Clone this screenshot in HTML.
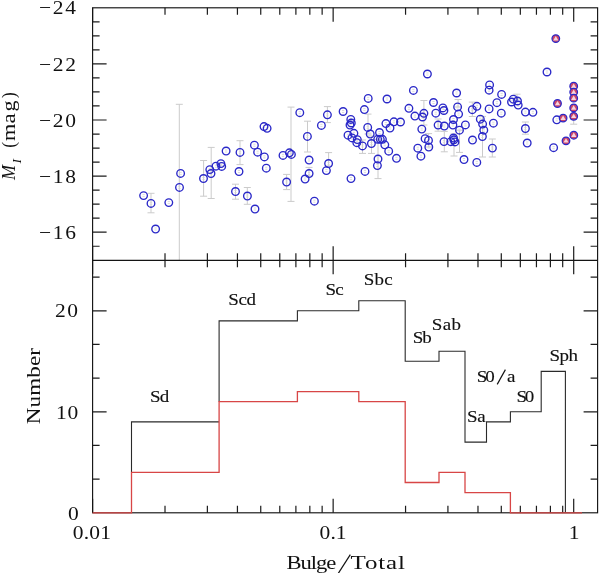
<!DOCTYPE html>
<html><head><meta charset="utf-8"><style>
html,body{margin:0;padding:0;background:#fff;}
body{width:600px;height:573px;overflow:hidden;font-family:"Liberation Serif",serif;}
svg{display:block;will-change:transform;}
</style></head><body>
<svg width="600" height="573" viewBox="0 0 600 573">
<rect width="600" height="573" fill="#fff"/>
<g stroke="#cbcbcb" stroke-width="1" fill="none">
<path d="M151.0 193.3V212.8"/>
<path d="M147.5 193.3H154.5"/>
<path d="M147.5 212.8H154.5"/>
<path d="M179.3 104.3V260.0"/>
<path d="M175.8 104.3H182.8"/>
<path d="M203.6 160.5V196.2"/>
<path d="M200.1 160.5H207.1"/>
<path d="M200.1 196.2H207.1"/>
<path d="M211.2 147.4V198.5"/>
<path d="M207.7 147.4H214.7"/>
<path d="M207.7 198.5H214.7"/>
<path d="M235.5 184.2V199.2"/>
<path d="M232.0 184.2H239.0"/>
<path d="M232.0 199.2H239.0"/>
<path d="M240.0 140.7V164.6"/>
<path d="M236.5 140.7H243.5"/>
<path d="M236.5 164.6H243.5"/>
<path d="M247.3 187.5V204.3"/>
<path d="M243.8 187.5H250.8"/>
<path d="M243.8 204.3H250.8"/>
<path d="M286.6 174.4V189.6"/>
<path d="M283.1 174.4H290.1"/>
<path d="M283.1 189.6H290.1"/>
<path d="M291.0 107.1V201.4"/>
<path d="M287.5 107.1H294.5"/>
<path d="M287.5 201.4H294.5"/>
<path d="M307.5 121.2V152.0"/>
<path d="M304.0 121.2H311.0"/>
<path d="M304.0 152.0H311.0"/>
<path d="M327.4 106.6V122.6"/>
<path d="M323.9 106.6H330.9"/>
<path d="M323.9 122.6H330.9"/>
<path d="M328.6 152.6V166.0"/>
<path d="M325.1 152.6H332.1"/>
<path d="M325.1 166.0H332.1"/>
<path d="M309.0 167.4V176.0"/>
<path d="M305.5 167.4H312.5"/>
<path d="M305.5 176.0H312.5"/>
<path d="M368.0 114.1V134.0"/>
<path d="M364.5 114.1H371.5"/>
<path d="M364.5 134.0H371.5"/>
<path d="M362.5 140.0V153.4"/>
<path d="M359.0 140.0H366.0"/>
<path d="M359.0 153.4H366.0"/>
<path d="M371.5 136.0V153.4"/>
<path d="M368.0 136.0H375.0"/>
<path d="M368.0 153.4H375.0"/>
<path d="M378.0 139.3V178.6"/>
<path d="M374.5 139.3H381.5"/>
<path d="M374.5 178.6H381.5"/>
<path d="M423.9 100.5V125.0"/>
<path d="M420.4 100.5H427.4"/>
<path d="M420.4 125.0H427.4"/>
<path d="M444.3 131.4V151.8"/>
<path d="M440.8 131.4H447.8"/>
<path d="M440.8 151.8H447.8"/>
<path d="M454.0 134.0V156.0"/>
<path d="M450.5 134.0H457.5"/>
<path d="M450.5 156.0H457.5"/>
<path d="M458.1 99.5V107.0"/>
<path d="M454.6 99.5H461.6"/>
<path d="M454.6 107.0H461.6"/>
<path d="M459.5 130.2V152.4"/>
<path d="M456.0 130.2H463.0"/>
<path d="M456.0 152.4H463.0"/>
<path d="M438.1 119.0V131.2"/>
<path d="M434.6 119.0H441.6"/>
<path d="M434.6 131.2H441.6"/>
<path d="M428.6 133.6V147.0"/>
<path d="M425.1 133.6H432.1"/>
<path d="M425.1 147.0H432.1"/>
<path d="M472.3 102.1V116.5"/>
<path d="M468.8 102.1H475.8"/>
<path d="M468.8 116.5H475.8"/>
<path d="M482.5 116.4V157.0"/>
<path d="M479.0 116.4H486.0"/>
<path d="M479.0 157.0H486.0"/>
<path d="M492.3 139.0V157.0"/>
<path d="M488.8 139.0H495.8"/>
<path d="M488.8 157.0H495.8"/>
<path d="M525.4 122.0V134.2"/>
<path d="M521.9 122.0H528.9"/>
<path d="M521.9 134.2H528.9"/>
<path d="M517.0 94.2V99.0"/>
<path d="M513.5 94.2H520.5"/>
<path d="M513.5 99.0H520.5"/>
<path d="M573.7 119.5V124.2"/>
<path d="M570.2 119.5H577.2"/>
<path d="M570.2 124.2H577.2"/>
</g>
<g stroke="#d2d2d2" stroke-width="0.8" fill="none">
<path d="M142.5 194.6h2.2M142.5 196.6h2.2"/>
<path d="M149.9 202.4h2.2M149.9 204.4h2.2"/>
<path d="M154.5 228.0h2.2M154.5 230.0h2.2"/>
<path d="M167.7 201.6h2.2M167.7 203.6h2.2"/>
<path d="M178.4 186.4h2.2M178.4 188.4h2.2"/>
<path d="M179.5 172.4h2.2M179.5 174.4h2.2"/>
<path d="M202.4 177.5h2.2M202.4 179.5h2.2"/>
<path d="M208.7 168.6h2.2M208.7 170.6h2.2"/>
<path d="M209.9 172.5h2.2M209.9 174.5h2.2"/>
<path d="M214.9 165.2h2.2M214.9 167.2h2.2"/>
<path d="M219.8 162.6h2.2M219.8 164.6h2.2"/>
<path d="M220.6 165.4h2.2M220.6 167.4h2.2"/>
<path d="M225.0 150.0h2.2M225.0 152.0h2.2"/>
<path d="M234.4 190.5h2.2M234.4 192.5h2.2"/>
<path d="M237.9 170.5h2.2M237.9 172.5h2.2"/>
<path d="M238.9 151.4h2.2M238.9 153.4h2.2"/>
<path d="M246.3 195.0h2.2M246.3 197.0h2.2"/>
<path d="M253.3 144.2h2.2M253.3 146.2h2.2"/>
<path d="M256.5 151.2h2.2M256.5 153.2h2.2"/>
<path d="M263.3 155.9h2.2M263.3 157.9h2.2"/>
<path d="M265.2 167.2h2.2M265.2 169.2h2.2"/>
<path d="M253.9 208.0h2.2M253.9 210.0h2.2"/>
<path d="M262.9 125.6h2.2M262.9 127.6h2.2"/>
<path d="M266.0 127.3h2.2M266.0 129.3h2.2"/>
<path d="M281.9 154.4h2.2M281.9 156.4h2.2"/>
<path d="M288.3 151.8h2.2M288.3 153.8h2.2"/>
<path d="M290.3 153.4h2.2M290.3 155.4h2.2"/>
<path d="M285.5 181.0h2.2M285.5 183.0h2.2"/>
<path d="M298.7 111.7h2.2M298.7 113.7h2.2"/>
<path d="M306.3 135.4h2.2M306.3 137.4h2.2"/>
<path d="M308.0 159.0h2.2M308.0 161.0h2.2"/>
<path d="M308.0 172.5h2.2M308.0 174.5h2.2"/>
<path d="M304.0 178.0h2.2M304.0 180.0h2.2"/>
<path d="M313.3 200.2h2.2M313.3 202.2h2.2"/>
<path d="M320.3 124.4h2.2M320.3 126.4h2.2"/>
<path d="M326.3 113.8h2.2M326.3 115.8h2.2"/>
<path d="M327.5 162.5h2.2M327.5 164.5h2.2"/>
<path d="M325.3 169.6h2.2M325.3 171.6h2.2"/>
<path d="M342.0 110.5h2.2M342.0 112.5h2.2"/>
<path d="M346.9 134.2h2.2M346.9 136.2h2.2"/>
<path d="M349.7 118.4h2.2M349.7 120.4h2.2"/>
<path d="M350.2 122.0h2.2M350.2 124.0h2.2"/>
<path d="M348.9 124.0h2.2M348.9 126.0h2.2"/>
<path d="M349.9 177.6h2.2M349.9 179.6h2.2"/>
<path d="M352.8 132.3h2.2M352.8 134.3h2.2"/>
<path d="M350.9 136.9h2.2M350.9 138.9h2.2"/>
<path d="M356.2 138.6h2.2M356.2 140.6h2.2"/>
<path d="M355.7 141.7h2.2M355.7 143.7h2.2"/>
<path d="M361.4 144.9h2.2M361.4 146.9h2.2"/>
<path d="M363.3 108.6h2.2M363.3 110.6h2.2"/>
<path d="M367.1 97.4h2.2M367.1 99.4h2.2"/>
<path d="M366.6 126.4h2.2M366.6 128.4h2.2"/>
<path d="M369.1 133.0h2.2M369.1 135.0h2.2"/>
<path d="M370.3 142.5h2.2M370.3 144.5h2.2"/>
<path d="M363.9 170.4h2.2M363.9 172.4h2.2"/>
<path d="M376.6 138.3h2.2M376.6 140.3h2.2"/>
<path d="M379.2 138.3h2.2M379.2 140.3h2.2"/>
<path d="M381.3 138.3h2.2M381.3 140.3h2.2"/>
<path d="M378.4 131.5h2.2M378.4 133.5h2.2"/>
<path d="M376.9 158.0h2.2M376.9 160.0h2.2"/>
<path d="M376.3 164.6h2.2M376.3 166.6h2.2"/>
<path d="M383.7 143.8h2.2M383.7 145.8h2.2"/>
<path d="M384.8 122.6h2.2M384.8 124.6h2.2"/>
<path d="M385.9 98.0h2.2M385.9 100.0h2.2"/>
<path d="M387.6 150.2h2.2M387.6 152.2h2.2"/>
<path d="M388.9 127.0h2.2M388.9 129.0h2.2"/>
<path d="M392.8 120.8h2.2M392.8 122.8h2.2"/>
<path d="M399.4 121.0h2.2M399.4 123.0h2.2"/>
<path d="M395.4 157.3h2.2M395.4 159.3h2.2"/>
<path d="M407.8 107.3h2.2M407.8 109.3h2.2"/>
<path d="M412.3 89.4h2.2M412.3 91.4h2.2"/>
<path d="M413.8 115.1h2.2M413.8 117.1h2.2"/>
<path d="M416.7 147.2h2.2M416.7 149.2h2.2"/>
<path d="M419.8 155.2h2.2M419.8 157.2h2.2"/>
<path d="M420.7 128.1h2.2M420.7 130.1h2.2"/>
<path d="M421.4 116.0h2.2M421.4 118.0h2.2"/>
<path d="M422.8 112.3h2.2M422.8 114.3h2.2"/>
<path d="M424.0 137.7h2.2M424.0 139.7h2.2"/>
<path d="M427.4 139.4h2.2M427.4 141.4h2.2"/>
<path d="M427.7 146.0h2.2M427.7 148.0h2.2"/>
<path d="M426.3 73.0h2.2M426.3 75.0h2.2"/>
<path d="M432.4 101.5h2.2M432.4 103.5h2.2"/>
<path d="M434.7 112.2h2.2M434.7 114.2h2.2"/>
<path d="M437.0 124.1h2.2M437.0 126.1h2.2"/>
<path d="M441.8 106.9h2.2M441.8 108.9h2.2"/>
<path d="M442.8 109.5h2.2M442.8 111.5h2.2"/>
<path d="M443.2 125.0h2.2M443.2 127.0h2.2"/>
<path d="M442.9 140.6h2.2M442.9 142.6h2.2"/>
<path d="M449.7 140.7h2.2M449.7 142.7h2.2"/>
<path d="M451.8 124.0h2.2M451.8 126.0h2.2"/>
<path d="M452.4 118.5h2.2M452.4 120.5h2.2"/>
<path d="M452.4 137.0h2.2M452.4 139.0h2.2"/>
<path d="M453.9 140.9h2.2M453.9 142.9h2.2"/>
<path d="M452.8 138.8h2.2M452.8 140.8h2.2"/>
<path d="M455.5 92.0h2.2M455.5 94.0h2.2"/>
<path d="M456.5 105.9h2.2M456.5 107.9h2.2"/>
<path d="M457.5 113.1h2.2M457.5 115.1h2.2"/>
<path d="M458.4 129.2h2.2M458.4 131.2h2.2"/>
<path d="M464.3 123.9h2.2M464.3 125.9h2.2"/>
<path d="M471.2 108.7h2.2M471.2 110.7h2.2"/>
<path d="M475.8 105.3h2.2M475.8 107.3h2.2"/>
<path d="M471.4 139.0h2.2M471.4 141.0h2.2"/>
<path d="M462.9 158.5h2.2M462.9 160.5h2.2"/>
<path d="M475.7 161.4h2.2M475.7 163.4h2.2"/>
<path d="M479.2 118.2h2.2M479.2 120.2h2.2"/>
<path d="M481.5 123.1h2.2M481.5 125.1h2.2"/>
<path d="M482.7 129.2h2.2M482.7 131.2h2.2"/>
<path d="M481.3 135.5h2.2M481.3 137.5h2.2"/>
<path d="M488.5 83.9h2.2M488.5 85.9h2.2"/>
<path d="M488.0 89.2h2.2M488.0 91.2h2.2"/>
<path d="M488.0 107.9h2.2M488.0 109.9h2.2"/>
<path d="M492.3 122.2h2.2M492.3 124.2h2.2"/>
<path d="M491.3 147.1h2.2M491.3 149.1h2.2"/>
<path d="M495.8 101.7h2.2M495.8 103.7h2.2"/>
<path d="M500.5 93.4h2.2M500.5 95.4h2.2"/>
<path d="M500.2 112.2h2.2M500.2 114.2h2.2"/>
<path d="M510.4 101.0h2.2M510.4 103.0h2.2"/>
<path d="M512.2 98.2h2.2M512.2 100.2h2.2"/>
<path d="M516.4 100.0h2.2M516.4 102.0h2.2"/>
<path d="M517.1 104.1h2.2M517.1 106.1h2.2"/>
<path d="M524.3 111.1h2.2M524.3 113.1h2.2"/>
<path d="M531.8 111.3h2.2M531.8 113.3h2.2"/>
<path d="M524.3 127.5h2.2M524.3 129.5h2.2"/>
<path d="M526.1 142.0h2.2M526.1 144.0h2.2"/>
<path d="M545.9 71.0h2.2M545.9 73.0h2.2"/>
<path d="M552.5 146.7h2.2M552.5 148.7h2.2"/>
<path d="M555.7 118.8h2.2M555.7 120.8h2.2"/>
</g>
<g fill="none" stroke="#2a28c8" stroke-width="1.35">
<circle cx="143.6" cy="195.6" r="3.8"/>
<circle cx="151.0" cy="203.4" r="3.8"/>
<circle cx="155.6" cy="229.0" r="3.8"/>
<circle cx="168.8" cy="202.6" r="3.8"/>
<circle cx="179.5" cy="187.4" r="3.8"/>
<circle cx="180.6" cy="173.4" r="3.8"/>
<circle cx="203.5" cy="178.5" r="3.8"/>
<circle cx="209.8" cy="169.6" r="3.8"/>
<circle cx="211.0" cy="173.5" r="3.8"/>
<circle cx="216.0" cy="166.2" r="3.8"/>
<circle cx="220.9" cy="163.6" r="3.8"/>
<circle cx="221.7" cy="166.4" r="3.8"/>
<circle cx="226.1" cy="151.0" r="3.8"/>
<circle cx="235.5" cy="191.5" r="3.8"/>
<circle cx="239.0" cy="171.5" r="3.8"/>
<circle cx="240.0" cy="152.4" r="3.8"/>
<circle cx="247.4" cy="196.0" r="3.8"/>
<circle cx="254.4" cy="145.2" r="3.8"/>
<circle cx="257.6" cy="152.2" r="3.8"/>
<circle cx="264.4" cy="156.9" r="3.8"/>
<circle cx="266.3" cy="168.2" r="3.8"/>
<circle cx="255.0" cy="209.0" r="3.8"/>
<circle cx="264.0" cy="126.6" r="3.8"/>
<circle cx="267.1" cy="128.3" r="3.8"/>
<circle cx="283.0" cy="155.4" r="3.8"/>
<circle cx="289.4" cy="152.8" r="3.8"/>
<circle cx="291.4" cy="154.4" r="3.8"/>
<circle cx="286.6" cy="182.0" r="3.8"/>
<circle cx="299.8" cy="112.7" r="3.8"/>
<circle cx="307.4" cy="136.4" r="3.8"/>
<circle cx="309.1" cy="160.0" r="3.8"/>
<circle cx="309.1" cy="173.5" r="3.8"/>
<circle cx="305.1" cy="179.0" r="3.8"/>
<circle cx="314.4" cy="201.2" r="3.8"/>
<circle cx="321.4" cy="125.4" r="3.8"/>
<circle cx="327.4" cy="114.8" r="3.8"/>
<circle cx="328.6" cy="163.5" r="3.8"/>
<circle cx="326.4" cy="170.6" r="3.8"/>
<circle cx="343.1" cy="111.5" r="3.8"/>
<circle cx="348.0" cy="135.2" r="3.8"/>
<circle cx="350.8" cy="119.4" r="3.8"/>
<circle cx="351.3" cy="123.0" r="3.8"/>
<circle cx="350.0" cy="125.0" r="3.8"/>
<circle cx="351.0" cy="178.6" r="3.8"/>
<circle cx="353.9" cy="133.3" r="3.8"/>
<circle cx="352.0" cy="137.9" r="3.8"/>
<circle cx="357.3" cy="139.6" r="3.8"/>
<circle cx="356.8" cy="142.7" r="3.8"/>
<circle cx="362.5" cy="145.9" r="3.8"/>
<circle cx="364.4" cy="109.6" r="3.8"/>
<circle cx="368.2" cy="98.4" r="3.8"/>
<circle cx="367.7" cy="127.4" r="3.8"/>
<circle cx="370.2" cy="134.0" r="3.8"/>
<circle cx="371.4" cy="143.5" r="3.8"/>
<circle cx="365.0" cy="171.4" r="3.8"/>
<circle cx="377.7" cy="139.3" r="3.8"/>
<circle cx="380.3" cy="139.3" r="3.8"/>
<circle cx="382.4" cy="139.3" r="3.8"/>
<circle cx="379.5" cy="132.5" r="3.8"/>
<circle cx="378.0" cy="159.0" r="3.8"/>
<circle cx="377.4" cy="165.6" r="3.8"/>
<circle cx="384.8" cy="144.8" r="3.8"/>
<circle cx="385.9" cy="123.6" r="3.8"/>
<circle cx="387.0" cy="99.0" r="3.8"/>
<circle cx="388.7" cy="151.2" r="3.8"/>
<circle cx="390.0" cy="128.0" r="3.8"/>
<circle cx="393.9" cy="121.8" r="3.8"/>
<circle cx="400.5" cy="122.0" r="3.8"/>
<circle cx="396.5" cy="158.3" r="3.8"/>
<circle cx="408.9" cy="108.3" r="3.8"/>
<circle cx="413.4" cy="90.4" r="3.8"/>
<circle cx="414.9" cy="116.1" r="3.8"/>
<circle cx="417.8" cy="148.2" r="3.8"/>
<circle cx="420.9" cy="156.2" r="3.8"/>
<circle cx="421.8" cy="129.1" r="3.8"/>
<circle cx="422.5" cy="117.0" r="3.8"/>
<circle cx="423.9" cy="113.3" r="3.8"/>
<circle cx="425.1" cy="138.7" r="3.8"/>
<circle cx="428.5" cy="140.4" r="3.8"/>
<circle cx="428.8" cy="147.0" r="3.8"/>
<circle cx="427.4" cy="74.0" r="3.8"/>
<circle cx="433.5" cy="102.5" r="3.8"/>
<circle cx="435.8" cy="113.2" r="3.8"/>
<circle cx="438.1" cy="125.1" r="3.8"/>
<circle cx="442.9" cy="107.9" r="3.8"/>
<circle cx="443.9" cy="110.5" r="3.8"/>
<circle cx="444.3" cy="126.0" r="3.8"/>
<circle cx="444.0" cy="141.6" r="3.8"/>
<circle cx="450.8" cy="141.7" r="3.8"/>
<circle cx="452.9" cy="125.0" r="3.8"/>
<circle cx="453.5" cy="119.5" r="3.8"/>
<circle cx="453.5" cy="138.0" r="3.8"/>
<circle cx="455.0" cy="141.9" r="3.8"/>
<circle cx="453.9" cy="139.8" r="3.8"/>
<circle cx="456.6" cy="93.0" r="3.8"/>
<circle cx="457.6" cy="106.9" r="3.8"/>
<circle cx="458.6" cy="114.1" r="3.8"/>
<circle cx="459.5" cy="130.2" r="3.8"/>
<circle cx="465.4" cy="124.9" r="3.8"/>
<circle cx="472.3" cy="109.7" r="3.8"/>
<circle cx="476.9" cy="106.3" r="3.8"/>
<circle cx="472.5" cy="140.0" r="3.8"/>
<circle cx="464.0" cy="159.5" r="3.8"/>
<circle cx="476.8" cy="162.4" r="3.8"/>
<circle cx="480.3" cy="119.2" r="3.8"/>
<circle cx="482.6" cy="124.1" r="3.8"/>
<circle cx="483.8" cy="130.2" r="3.8"/>
<circle cx="482.4" cy="136.5" r="3.8"/>
<circle cx="489.6" cy="84.9" r="3.8"/>
<circle cx="489.1" cy="90.2" r="3.8"/>
<circle cx="489.1" cy="108.9" r="3.8"/>
<circle cx="493.4" cy="123.2" r="3.8"/>
<circle cx="492.4" cy="148.1" r="3.8"/>
<circle cx="496.9" cy="102.7" r="3.8"/>
<circle cx="501.6" cy="94.4" r="3.8"/>
<circle cx="501.3" cy="113.2" r="3.8"/>
<circle cx="511.5" cy="102.0" r="3.8"/>
<circle cx="513.3" cy="99.2" r="3.8"/>
<circle cx="517.5" cy="101.0" r="3.8"/>
<circle cx="518.2" cy="105.1" r="3.8"/>
<circle cx="525.4" cy="112.1" r="3.8"/>
<circle cx="532.9" cy="112.3" r="3.8"/>
<circle cx="525.4" cy="128.5" r="3.8"/>
<circle cx="527.2" cy="143.0" r="3.8"/>
<circle cx="547.0" cy="72.0" r="3.8"/>
<circle cx="553.6" cy="147.7" r="3.8"/>
<circle cx="556.8" cy="119.8" r="3.8"/>
</g>
<circle cx="555.8" cy="38.6" r="3.8" fill="#cc4668" stroke="#2a28c8" stroke-width="1.25"/>
<path d="M555.80 36.00L558.40 40.40L553.20 40.40Z" fill="#f6d4dc"/>
<circle cx="557.5" cy="103.5" r="3.8" fill="#cc4668" stroke="#2a28c8" stroke-width="1.25"/>
<path d="M557.50 100.90L560.10 105.30L554.90 105.30Z" fill="#f6d4dc"/>
<circle cx="573.7" cy="86.2" r="3.8" fill="#cc4668" stroke="#2a28c8" stroke-width="1.25"/>
<path d="M573.70 83.60L576.30 88.00L571.10 88.00Z" fill="#f6d4dc"/>
<circle cx="573.7" cy="92.1" r="3.8" fill="#cc4668" stroke="#2a28c8" stroke-width="1.25"/>
<path d="M573.70 89.50L576.30 93.90L571.10 93.90Z" fill="#f6d4dc"/>
<circle cx="573.7" cy="98.2" r="3.8" fill="#cc4668" stroke="#2a28c8" stroke-width="1.25"/>
<path d="M573.70 95.60L576.30 100.00L571.10 100.00Z" fill="#f6d4dc"/>
<circle cx="573.7" cy="107.9" r="3.8" fill="#cc4668" stroke="#2a28c8" stroke-width="1.25"/>
<path d="M573.70 105.30L576.30 109.70L571.10 109.70Z" fill="#f6d4dc"/>
<circle cx="573.7" cy="116.3" r="3.8" fill="#cc4668" stroke="#2a28c8" stroke-width="1.25"/>
<path d="M573.70 113.70L576.30 118.10L571.10 118.10Z" fill="#f6d4dc"/>
<circle cx="563.1" cy="118.1" r="3.8" fill="#cc4668" stroke="#2a28c8" stroke-width="1.25"/>
<path d="M563.10 115.50L565.70 119.90L560.50 119.90Z" fill="#f6d4dc"/>
<circle cx="573.8" cy="135.2" r="3.8" fill="#cc4668" stroke="#2a28c8" stroke-width="1.25"/>
<path d="M573.80 132.60L576.40 137.00L571.20 137.00Z" fill="#f6d4dc"/>
<circle cx="566.0" cy="140.8" r="3.8" fill="#cc4668" stroke="#2a28c8" stroke-width="1.25"/>
<path d="M566.00 138.20L568.60 142.60L563.40 142.60Z" fill="#f6d4dc"/>
<path d="M92.60 7.80V21.80M92.60 260.30V246.30M92.60 260.30V274.30M92.60 512.80V498.80M333.15 7.80V21.80M333.15 260.30V246.30M333.15 260.30V274.30M333.15 512.80V498.80M573.70 7.80V21.80M573.70 260.30V246.30M573.70 260.30V274.30M573.70 512.80V498.80M165.01 7.80V14.80M165.01 260.30V253.30M165.01 260.30V267.30M165.01 512.80V505.80M207.37 7.80V14.80M207.37 260.30V253.30M207.37 260.30V267.30M207.37 512.80V505.80M237.43 7.80V14.80M237.43 260.30V253.30M237.43 260.30V267.30M237.43 512.80V505.80M260.74 7.80V14.80M260.74 260.30V253.30M260.74 260.30V267.30M260.74 512.80V505.80M279.78 7.80V14.80M279.78 260.30V253.30M279.78 260.30V267.30M279.78 512.80V505.80M295.89 7.80V14.80M295.89 260.30V253.30M295.89 260.30V267.30M295.89 512.80V505.80M309.84 7.80V14.80M309.84 260.30V253.30M309.84 260.30V267.30M309.84 512.80V505.80M322.14 7.80V14.80M322.14 260.30V253.30M322.14 260.30V267.30M322.14 512.80V505.80M405.56 7.80V14.80M405.56 260.30V253.30M405.56 260.30V267.30M405.56 512.80V505.80M447.92 7.80V14.80M447.92 260.30V253.30M447.92 260.30V267.30M447.92 512.80V505.80M477.98 7.80V14.80M477.98 260.30V253.30M477.98 260.30V267.30M477.98 512.80V505.80M501.29 7.80V14.80M501.29 260.30V253.30M501.29 260.30V267.30M501.29 512.80V505.80M520.33 7.80V14.80M520.33 260.30V253.30M520.33 260.30V267.30M520.33 512.80V505.80M536.44 7.80V14.80M536.44 260.30V253.30M536.44 260.30V267.30M536.44 512.80V505.80M550.39 7.80V14.80M550.39 260.30V253.30M550.39 260.30V267.30M550.39 512.80V505.80M562.69 7.80V14.80M562.69 260.30V253.30M562.69 260.30V267.30M562.69 512.80V505.80M92.60 21.82H99.60M597.60 21.82H590.60M92.60 35.85H99.60M597.60 35.85H590.60M92.60 49.88H99.60M597.60 49.88H590.60M92.60 63.90H106.60M597.60 63.90H583.60M92.60 77.92H99.60M597.60 77.92H590.60M92.60 91.95H99.60M597.60 91.95H590.60M92.60 105.97H99.60M597.60 105.97H590.60M92.60 120.00H106.60M597.60 120.00H583.60M92.60 134.03H99.60M597.60 134.03H590.60M92.60 148.05H99.60M597.60 148.05H590.60M92.60 162.08H99.60M597.60 162.08H590.60M92.60 176.10H106.60M597.60 176.10H583.60M92.60 190.13H99.60M597.60 190.13H590.60M92.60 204.15H99.60M597.60 204.15H590.60M92.60 218.18H99.60M597.60 218.18H590.60M92.60 232.20H106.60M597.60 232.20H583.60M92.60 246.23H99.60M597.60 246.23H590.60M92.60 479.13H99.60M597.60 479.13H590.60M92.60 445.47H99.60M597.60 445.47H590.60M92.60 411.80H106.60M597.60 411.80H583.60M92.60 378.13H99.60M597.60 378.13H590.60M92.60 344.47H99.60M597.60 344.47H590.60M92.60 310.80H106.60M597.60 310.80H583.60M92.60 277.13H99.60M597.60 277.13H590.60" fill="none" stroke="#1c1c1c" stroke-width="1.2"/>
<rect x="92.60" y="7.80" width="505.00" height="505.00" fill="none" stroke="#141414" stroke-width="1.15"/>
<path d="M92.60 260.30H597.60" stroke="#141414" stroke-width="1.15"/>
<path d="M131.5 472.40V421.90H219.1M219.1 401.70V320.90H297.4V310.80H358.8V300.70H405.2V361.30H439.0V351.20H465.0V442.10H486.5V421.90H510.4V411.80H541.2V371.40H565.4V512.80" fill="none" stroke="#2a2a2a" stroke-width="1.1"/>
<path d="M92.6 512.80H131.5V472.40H219.1V401.70H297.4V391.60H358.8V401.70H405.2V482.50H439.0V472.40H465.0V492.60H510.4V512.80H582" fill="none" stroke="#d84646" stroke-width="1.3"/>
<g font-family="Liberation Serif, serif" fill="#111">
<text transform="translate(39.00,14.40) scale(1.120,1)" font-size="19.2" text-anchor="start" textLength="33.04" lengthAdjust="spacing">&#8722;24</text>
<text transform="translate(39.00,70.50) scale(1.120,1)" font-size="19.2" text-anchor="start" textLength="33.04" lengthAdjust="spacing">&#8722;22</text>
<text transform="translate(39.00,126.60) scale(1.120,1)" font-size="19.2" text-anchor="start" textLength="33.04" lengthAdjust="spacing">&#8722;20</text>
<text transform="translate(39.00,182.70) scale(1.120,1)" font-size="19.2" text-anchor="start" textLength="33.04" lengthAdjust="spacing">&#8722;18</text>
<text transform="translate(39.00,238.80) scale(1.120,1)" font-size="19.2" text-anchor="start" textLength="33.04" lengthAdjust="spacing">&#8722;16</text>
<text transform="translate(55.00,317.40) scale(1.120,1)" font-size="19.2" text-anchor="start" textLength="20.54" lengthAdjust="spacing">20</text>
<text transform="translate(56.00,418.90) scale(1.120,1)" font-size="19.2" text-anchor="start" textLength="19.82" lengthAdjust="spacing">10</text>
<text transform="translate(68.00,519.60) scale(1.120,1)" font-size="19.2" text-anchor="start">0</text>
<text transform="translate(72.80,539.40) scale(1.120,1)" font-size="19.2" text-anchor="start" textLength="34.11" lengthAdjust="spacing">0.01</text>
<text transform="translate(319.60,539.40) scale(1.120,1)" font-size="19.2" text-anchor="start" textLength="24.11" lengthAdjust="spacing">0.1</text>
<text transform="translate(568.80,539.40) scale(1.120,1)" font-size="19.2" text-anchor="start">1</text>
<text transform="translate(286.40,568.50) scale(1.180,1)" font-size="19.2" text-anchor="start" textLength="42.37" lengthAdjust="spacing">Bulge</text>
<text transform="translate(350.60,568.50) scale(1.300,1)" font-size="19.2" text-anchor="start" textLength="41.85" lengthAdjust="spacing">Total</text>
<path d="M338.2 573.5L350.3 554.6" stroke="#111" stroke-width="1.2" fill="none"/>
<text transform="translate(39.8,424.2) rotate(-90) scale(1.200,1)" font-size="19.2" textLength="63.50" lengthAdjust="spacing">Number</text>
<g transform="translate(15.1,178.6) rotate(-90)"><text transform="translate(-1.40,0) scale(0.940,1)" font-size="19.2" font-style="italic">M</text><text transform="translate(15.10,5.80) scale(1.120,1)" font-size="12.2" font-style="italic">I</text><text transform="translate(30.8,0) scale(0.9,1)" font-size="19.2">(</text><text transform="translate(37.6,0) scale(1.16,1)" font-size="19.2">m</text><text transform="translate(55.0,0) scale(1.2,1)" font-size="19.2">a</text><text transform="translate(67.0,0) scale(1.15,1)" font-size="19.2">g</text><text transform="translate(80.6,0) scale(0.9,1)" font-size="19.2">)</text></g>
<text transform="translate(150.00,401.80) scale(1.200,1)" font-size="15.8" text-anchor="start" textLength="16.00" lengthAdjust="spacing" stroke="#111" stroke-width="0.12">Sd</text>
<text transform="translate(228.20,304.80) scale(1.200,1)" font-size="15.8" text-anchor="start" textLength="23.17" lengthAdjust="spacing" stroke="#111" stroke-width="0.12">Scd</text>
<text transform="translate(325.40,294.70) scale(1.200,1)" font-size="15.8" text-anchor="start" textLength="15.17" lengthAdjust="spacing" stroke="#111" stroke-width="0.12">Sc</text>
<text transform="translate(363.80,285.30) scale(1.200,1)" font-size="15.8" text-anchor="start" textLength="24.00" lengthAdjust="spacing" stroke="#111" stroke-width="0.12">Sbc</text>
<text transform="translate(412.80,342.80) scale(1.200,1)" font-size="15.8" text-anchor="start" textLength="15.83" lengthAdjust="spacing" stroke="#111" stroke-width="0.12">Sb</text>
<text transform="translate(431.80,330.30) scale(1.200,1)" font-size="15.8" text-anchor="start" textLength="24.33" lengthAdjust="spacing" stroke="#111" stroke-width="0.12">Sab</text>
<text transform="translate(467.00,421.50) scale(1.200,1)" font-size="15.8" text-anchor="start" textLength="15.67" lengthAdjust="spacing" stroke="#111" stroke-width="0.12">Sa</text>
<text transform="translate(516.40,401.90) scale(1.200,1)" font-size="15.8" text-anchor="start" textLength="14.83" lengthAdjust="spacing" stroke="#111" stroke-width="0.12">S0</text>
<text transform="translate(549.40,360.90) scale(1.200,1)" font-size="15.8" text-anchor="start" textLength="23.83" lengthAdjust="spacing" stroke="#111" stroke-width="0.12">Sph</text>
<text transform="translate(476.80,381.60) scale(1.200,1)" font-size="15.8" text-anchor="start" textLength="15.00" lengthAdjust="spacing" stroke="#111" stroke-width="0.12">S0</text>
<path d="M497.2 384.4L505.4 369.6" stroke="#111" stroke-width="1.15" fill="none"/>
<text transform="translate(507.00,381.60) scale(1.200,1)" font-size="15.8" text-anchor="start" stroke="#111" stroke-width="0.12">a</text>
</g>
</svg>
</body></html>
